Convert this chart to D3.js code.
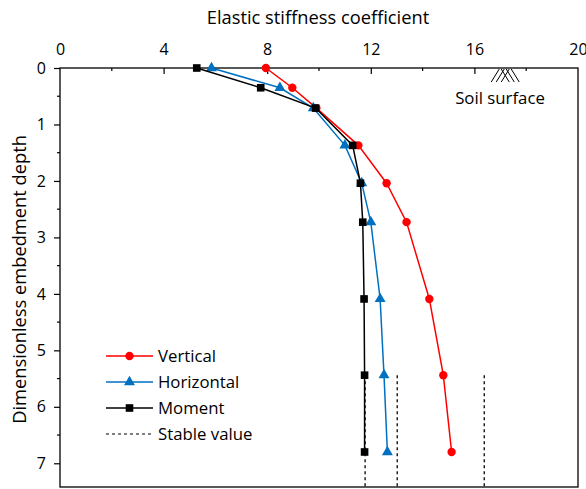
<!DOCTYPE html>
<html><head><meta charset="utf-8">
<script src="https://cdn.jsdelivr.net/npm/d3@7"></script>
<style>body{margin:0;background:#fff}svg{display:block}text{font-family:"Open Sans",sans-serif;fill:#000}</style>
</head><body><svg id="c" width="586" height="489"></svg>
<script>
const depths = [0, 0.35, 0.71, 1.37, 2.04, 2.73, 4.09, 5.44, 6.8];
const vertical = [7.95, 8.97, 9.9, 11.52, 12.61, 13.38, 14.26, 14.8, 15.12];
const horizontal = [5.85, 8.49, 9.78, 11.0, 11.65, 12.0, 12.36, 12.51, 12.64];
const moment = [5.28, 7.75, 9.87, 11.3, 11.6, 11.69, 11.74, 11.76, 11.76];
const stableValues = [11.78, 13.02, 16.38];
const stableFromDepth = 5.44;
const seriesNames = ["Vertical", "Horizontal", "Moment", "Stable value"];
const xTicks = [0, 4, 8, 12, 16, 20];
const yTicks = [0, 1, 2, 3, 4, 5, 6, 7];

const svg = d3.select("#c");
const L = 60, R = 578, T = 68, B = 487;
const x = d3.scaleLinear().domain([0, 20]).range([L, R]);
const y = d3.scaleLinear().domain([0, 7.42]).range([T, B]);

// frame
svg.append("rect").attr("x", L).attr("y", T).attr("width", R - L).attr("height", B - T)
  .attr("fill", "none").attr("stroke", "#000").attr("stroke-width", 1.3);

// x axis top, ticks inward
const xMinor = d3.range(2, 20, 4);
const gx = svg.append("g").attr("transform", `translate(0,${T})`);
gx.call(d3.axisTop(x).tickValues(xTicks).tickSize(-6).tickPadding(13).tickFormat(d3.format("d")));
gx.call(g => g.selectAll(".tick").filter(d => d === 0 || d === 20).select("line").remove());
xMinor.forEach(v => gx.append("line").attr("x1", x(v)).attr("x2", x(v)).attr("y1", 0).attr("y2", 3).attr("stroke", "#000"));
gx.select(".domain").remove();
gx.selectAll("text").style("font-size", "16px").style("font-family", "'Open Sans',sans-serif");
gx.selectAll("line").attr("stroke-width", 1.2);

// y axis left, ticks outward
const gy = svg.append("g").attr("transform", `translate(${L},0)`);
gy.call(d3.axisLeft(y).tickValues(yTicks).tickSize(6).tickPadding(8).tickFormat(d3.format("d")));
d3.range(0.5, 7.5, 1).forEach(v => gy.append("line").attr("x1", -3).attr("x2", 0).attr("y1", y(v)).attr("y2", y(v)).attr("stroke", "#000"));
gy.select(".domain").remove();
gy.selectAll("text").style("font-size", "16px").style("font-family", "'Open Sans',sans-serif");
gy.selectAll("line").attr("stroke-width", 1.2);

// titles
svg.append("text").attr("x", 318).attr("y", 24).attr("text-anchor", "middle")
  .style("font-size", "18.3px").text("Elastic stiffness coefficient");
svg.append("text").attr("transform", `translate(26,${(T + B) / 2 + 2}) rotate(-90)`).attr("text-anchor", "middle")
  .style("font-size", "18.3px").text("Dimensionless embedment depth");

// stable value dashed lines
stableValues.forEach(v => svg.append("line").attr("x1", x(v)).attr("x2", x(v))
  .attr("y1", y(stableFromDepth)).attr("y2", B).attr("stroke", "#000").attr("stroke-width", 1.3)
  .attr("stroke-dasharray", "3,3"));

const series = [
  { name: seriesNames[0], vals: vertical, color: "#ff0000", shape: "circle" },
  { name: seriesNames[1], vals: horizontal, color: "#0070c0", shape: "triangle" },
  { name: seriesNames[2], vals: moment, color: "#000000", shape: "square" }
];
const sym = {
  circle: d3.symbol().type(d3.symbolCircle).size(55),
  triangle: d3.symbol().type(d3.symbolTriangle).size(52),
  square: d3.symbol().type(d3.symbolSquare).size(58)
};
const line = d3.line().x(d => x(d[0])).y(d => y(d[1]));
series.forEach(s => {
  const pts = s.vals.map((v, i) => [v, depths[i]]);
  svg.append("path").attr("d", line(pts)).attr("fill", "none").attr("stroke", s.color).attr("stroke-width", 1.5);
  svg.append("g").selectAll("path").data(pts).join("path")
    .attr("d", sym[s.shape]()).attr("transform", d => `translate(${x(d[0])},${y(d[1])})`)
    .attr("fill", s.color);
});

// soil surface symbol
const sg = svg.append("g");
const sx = x(16.65);
for (let i = 0; i < 3; i++) {
  sg.append("line").attr("x1", sx + i * 5).attr("y1", T + 14).attr("x2", sx + 8 + i * 5).attr("y2", T + 1)
    .attr("stroke", "#000").attr("stroke-width", 1);
  sg.append("line").attr("x1", sx + 10 + i * 5).attr("y1", T + 1).attr("x2", sx + 18 + i * 5).attr("y2", T + 14)
    .attr("stroke", "#000").attr("stroke-width", 1);
}
svg.append("text").attr("x", 500).attr("y", 104).attr("text-anchor", "middle")
  .style("font-size", "16.8px").text("Soil surface");

// legend
const lg = svg.append("g");
const rows = [356, 382, 408, 434];
series.forEach((s, i) => {
  lg.append("line").attr("x1", 106).attr("x2", 153).attr("y1", rows[i]).attr("y2", rows[i]).attr("stroke", s.color).attr("stroke-width", 1.5);
  lg.append("path").attr("d", sym[s.shape]()).attr("transform", `translate(129.5,${rows[i]})`).attr("fill", s.color);
  lg.append("text").attr("x", 158).attr("y", rows[i] + 6).style("font-size", "16.8px").text(s.name);
});
lg.append("line").attr("x1", 106).attr("x2", 153).attr("y1", rows[3]).attr("y2", rows[3]).attr("stroke", "#000").attr("stroke-width", 1.2).attr("stroke-dasharray", "3,3");
lg.append("text").attr("x", 158).attr("y", rows[3] + 6).style("font-size", "16.8px").text(seriesNames[3]);
</script></body></html>
